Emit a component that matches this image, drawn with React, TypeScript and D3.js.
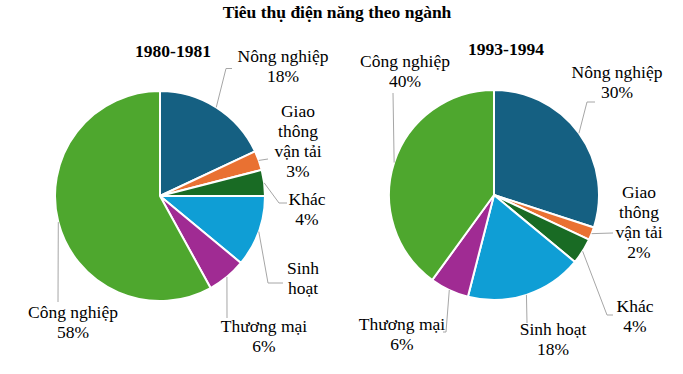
import React from "react";
import * as d3 from "d3";

const categories = ["Nông nghiệp", "Giao thông vận tải", "Khác", "Sinh hoạt", "Thương mại", "Công nghiệp"];
const values1980 = [18, 3, 4, 11, 6, 58];
const values1993 = [30, 2, 4, 18, 6, 40];
const colors = ["#156082", "#E97132", "#196B24", "#0F9ED5", "#A02B93", "#4EA72E"];
const title = "Tiêu thụ điện năng theo ngành";
const periods = ["1980-1981", "1993-1994"];

const W = 683;
const H = 374;
const FONT = "Liberation Serif, Tinos, DejaVu Serif, serif";
const FS = 17.5;
const LH = 20;

type LabelCfg = { lines: string[]; pct: boolean; cx: number; y: number; pts: [number, number][] };

const labels1980: LabelCfg[] = [
  { lines: ["Nông nghiệp"], pct: true, cx: 283, y: 62, pts: [[226, 68.5], [232, 68.5]] },
  { lines: ["Giao", "thông", "vận tải"], pct: true, cx: 298, y: 117, pts: [[268, 159]] },
  { lines: ["Khác"], pct: true, cx: 307, y: 205, pts: [[279, 203], [287, 203]] },
  { lines: ["Sinh", "hoạt"], pct: false, cx: 303, y: 274, pts: [[268, 283], [283, 283]] },
  { lines: ["Thương mại"], pct: true, cx: 264, y: 332, pts: [[227, 318]] },
  { lines: ["Công nghiệp"], pct: true, cx: 73, y: 318, pts: [[58, 302]] },
];

const labels1993: LabelCfg[] = [
  { lines: ["Nông nghiệp"], pct: true, cx: 617, y: 78, pts: [[587, 102], [595, 102]] },
  { lines: ["Giao", "thông", "vận tải"], pct: true, cx: 639, y: 198, pts: [[613, 233]] },
  { lines: ["Khác"], pct: true, cx: 635, y: 312, pts: [[607, 315], [613, 315]] },
  { lines: ["Sinh hoạt"], pct: true, cx: 553, y: 335, pts: [[527, 323]] },
  { lines: ["Thương mại"], pct: true, cx: 402, y: 330, pts: [[446, 332], [443, 332]] },
  { lines: ["Công nghiệp"], pct: true, cx: 405, y: 67, pts: [[393, 93]] },
];

const textStyle: React.CSSProperties = { fontFamily: FONT, fontSize: FS };

function Pie({ values, cx, cy, r, labels }: { values: number[]; cx: number; cy: number; r: number; labels: LabelCfg[] }) {
  const total = d3.sum(values);
  const arcs = d3.pie<number>().sort(null)(values);
  const arcGen = d3.arc<d3.PieArcDatum<number>>().innerRadius(0).outerRadius(r);
  const line = d3.line();
  return (
    <g>
      <g transform={`translate(${cx},${cy})`}>
        {arcs.map((a, i) => (
          <path key={i} d={arcGen(a) || ""} fill={colors[i]} stroke="#fff" strokeWidth={2} strokeLinejoin="round" />
        ))}
      </g>
      {arcs.map((a, i) => {
        const lab = labels[i];
        const mid = (a.startAngle + a.endAngle) / 2;
        const sx = cx + r * Math.sin(mid);
        const sy = cy - r * Math.cos(mid);
        const pts: [number, number][] = [[sx, sy], ...lab.pts];
        const lines = lab.pct ? [...lab.lines, `${Math.round((values[i] / total) * 100)}%`] : lab.lines;
        return (
          <g key={"l" + i}>
            <path d={line(pts) || ""} fill="none" stroke="#A6A6A6" strokeWidth={1} />
            <text textAnchor="middle" style={textStyle} fill="#000">
              {lines.map((t, j) => (
                <tspan key={j} x={lab.cx} y={lab.y + j * LH}>{t}</tspan>
              ))}
            </text>
          </g>
        );
      })}
    </g>
  );
}

export default function App() {
  const bold: React.CSSProperties = { fontFamily: FONT, fontSize: 17.5, fontWeight: "bold" };
  return (
    <svg width={W} height={H} style={{ position: "absolute", left: 0, top: 0, background: "#fff" }}>
      <rect width={W} height={H} fill="#fff" />
      <text x={337} y={17.5} textAnchor="middle" style={bold}>{title}</text>
      <text x={173} y={56.5} textAnchor="middle" style={bold}>{periods[0]}</text>
      <text x={506} y={55} textAnchor="middle" style={bold}>{periods[1]}</text>
      <Pie values={values1980} cx={160} cy={196} r={105} labels={labels1980} />
      <Pie values={values1993} cx={494} cy={195} r={105} labels={labels1993} />
    </svg>
  );
}
